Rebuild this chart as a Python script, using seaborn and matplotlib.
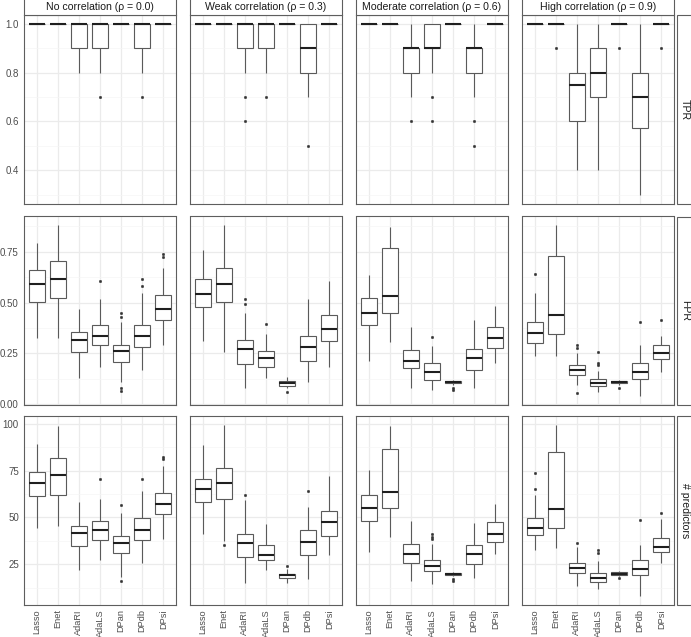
import numpy as np
import pandas as pd
import matplotlib
matplotlib.use('Agg')
import matplotlib.pyplot as plt
import seaborn as sns
from matplotlib.patches import Rectangle

methods = ['Lasso', 'Enet', 'AdaRI', 'AdaLS', 'DPan', 'DPdb', 'DPsi']
corr_labels = ['No correlation (ρ = 0.0)', 'Weak correlation (ρ = 0.3)',
               'Moderate correlation (ρ = 0.6)', 'High correlation (ρ = 0.9)']
metric_labels = ['TPR', 'FPR', '# predictors']

# box summaries, one tuple per method:
# (lower whisker, q1, median, q3, upper whisker, outliers)
ONE = (1.0, 1.0, 1.0, 1.0, 1.0, [])
tpr_none = [ONE, ONE, (0.8, 0.9, 1.0, 1.0, 1.0, []), (0.8, 0.9, 1.0, 1.0, 1.0, [0.7]),
            ONE, (0.8, 0.9, 1.0, 1.0, 1.0, [0.7]), ONE]
tpr_weak = [ONE, ONE, (0.8, 0.9, 1.0, 1.0, 1.0, [0.7, 0.6]), (0.8, 0.9, 1.0, 1.0, 1.0, [0.7]),
            ONE, (0.7, 0.8, 0.9, 1.0, 1.0, [0.5]), ONE]
tpr_mod = [ONE, ONE, (0.7, 0.8, 0.9, 0.9, 1.0, [0.6]), (0.8, 0.9, 0.9, 1.0, 1.0, [0.7, 0.6]),
           ONE, (0.7, 0.8, 0.9, 0.9, 1.0, [0.6, 0.5]), ONE]
tpr_high = [ONE, (1.0, 1.0, 1.0, 1.0, 1.0, [0.9]), (0.4, 0.6, 0.75, 0.8, 1.0, []),
            (0.4, 0.7, 0.8, 0.9, 1.0, []), (1.0, 1.0, 1.0, 1.0, 1.0, [0.9]),
            (0.3, 0.575, 0.7, 0.8, 1.0, []), (1.0, 1.0, 1.0, 1.0, 1.0, [0.9])]

fpr_none = [(0.326, 0.504, 0.593, 0.659, 0.796, []),
            (0.326, 0.524, 0.616, 0.705, 0.882, []),
            (0.127, 0.257, 0.316, 0.354, 0.471, []),
            (0.185, 0.292, 0.338, 0.389, 0.516, [0.607]),
            (0.107, 0.209, 0.26, 0.29, 0.404, [0.066, 0.081, 0.427, 0.45]),
            (0.17, 0.28, 0.338, 0.391, 0.549, [0.582, 0.615]),
            (0.292, 0.415, 0.471, 0.537, 0.672, [0.727, 0.737])]
fpr_weak = [(0.313, 0.48, 0.544, 0.616, 0.758, []),
            (0.259, 0.504, 0.593, 0.672, 0.882, []),
            (0.082, 0.198, 0.27, 0.315, 0.45, [0.494, 0.519]),
            (0.127, 0.181, 0.227, 0.26, 0.346, [0.394]),
            (0.08, 0.091, 0.102, 0.112, 0.132, [0.058]),
            (0.107, 0.213, 0.282, 0.335, 0.516, []),
            (0.181, 0.312, 0.371, 0.438, 0.607, [])]
fpr_mod = [(0.214, 0.391, 0.45, 0.524, 0.638, []),
           (0.305, 0.45, 0.534, 0.771, 0.874, []),
           (0.078, 0.18, 0.214, 0.268, 0.382, []),
           (0.068, 0.121, 0.157, 0.202, 0.285, [0.33]),
           (0.095, 0.103, 0.108, 0.113, 0.12, [0.07, 0.081]),
           (0.078, 0.167, 0.225, 0.272, 0.415, []),
           (0.202, 0.277, 0.326, 0.382, 0.483, [])]
fpr_high = [(0.239, 0.303, 0.349, 0.404, 0.549, [0.64]),
            (0.239, 0.346, 0.44, 0.73, 0.882, []),
            (0.093, 0.144, 0.169, 0.194, 0.25, [0.056, 0.275, 0.293]),
            (0.058, 0.089, 0.103, 0.123, 0.164, [0.194, 0.205, 0.258]),
            (0.095, 0.103, 0.109, 0.114, 0.12, [0.078]),
            (0.038, 0.123, 0.157, 0.202, 0.29, [0.404]),
            (0.16, 0.222, 0.25, 0.292, 0.335, [0.415])]

npred_none = [(44.4, 61.3, 68.5, 74.2, 89.3, []),
              (45.3, 62.0, 72.5, 81.5, 98.6, []),
              (21.8, 34.8, 41.4, 45.3, 58.2, []),
              (27.1, 38.0, 43.3, 47.9, 59.7, [70.3]),
              (18.0, 31.0, 36.4, 39.9, 52.4, [15.8, 56.5]),
              (25.4, 38.0, 43.3, 49.4, 64.1, [70.3]),
              (38.3, 51.8, 57.3, 63.0, 77.3, [81.0, 82.0])]
npred_weak = [(41.2, 58.2, 65.3, 70.3, 88.4, []),
              (37.5, 60.0, 68.5, 76.2, 99.5, [35.0]),
              (15.0, 28.9, 36.4, 41.3, 59.5, [62.1]),
              (21.8, 27.1, 30.0, 35.0, 46.5, []),
              (15.0, 17.7, 19.1, 19.9, 22.5, [24.1]),
              (17.2, 29.8, 36.7, 43.2, 55.5, [64.0]),
              (29.8, 40.3, 47.6, 53.4, 72.0, [])]
npred_mod = [(31.4, 47.9, 54.9, 62.0, 75.5, []),
             (39.4, 54.9, 63.6, 86.5, 98.9, []),
             (16.1, 25.9, 30.5, 35.6, 48.3, []),
             (14.4, 21.3, 24.1, 27.3, 35.6, [38.3, 39.7, 41.0]),
             (18.5, 19.1, 19.6, 20.1, 21.0, [16.1, 17.0]),
             (17.4, 25.0, 30.5, 35.1, 47.0, []),
             (30.7, 37.1, 41.0, 47.5, 57.3, [])]
npred_high = [(32.6, 40.4, 44.5, 49.7, 62.1, [65.0, 73.7]),
              (33.7, 44.4, 54.7, 84.7, 99.5, []),
              (13.5, 20.2, 23.2, 25.9, 34.0, [36.5]),
              (11.7, 15.6, 17.4, 20.2, 26.5, [31.2, 32.6]),
              (18.5, 19.5, 20.0, 20.6, 21.2, [17.4]),
              (8.1, 19.1, 22.3, 27.3, 35.1, [48.4]),
              (25.5, 31.5, 34.4, 39.2, 49.2, [52.4])]

panels = [[tpr_none, tpr_weak, tpr_mod, tpr_high],
          [fpr_none, fpr_weak, fpr_mod, fpr_high],
          [npred_none, npred_weak, npred_mod, npred_high]]

y_limits = [(0.265, 1.035), (-0.004, 0.924), (3.5, 104.1)]
y_major = [[0.4, 0.6, 0.8, 1.0], [0.0, 0.25, 0.5, 0.75], [25, 50, 75, 100]]
y_major_lbl = [['0.4', '0.6', '0.8', '1.0'], ['0.00', '0.25', '0.50', '0.75'],
               ['25', '50', '75', '100']]
y_minor = [[0.3, 0.5, 0.7, 0.9], [0.125, 0.375, 0.625, 0.875], [12.5, 37.5, 62.5, 87.5]]


def expand(box):
    # small sample whose quartiles / whiskers / outliers equal the read summary
    lo, q1, med, q3, hi, out = box
    low = sorted([lo] + [v for v in out if v < q1])
    high = sorted([hi] + [v for v in out if v > q3])
    m = max(len(low), len(high))
    low = low + [q1] * (m - len(low))
    high = [q3] * (m - len(high)) + high
    return low + [q1] * m + [med] * m + [q3] + high


rows = []
for r, metric in enumerate(metric_labels):
    for c, corr in enumerate(corr_labels):
        for meth, box in zip(methods, panels[r][c]):
            for v in expand(box):
                rows.append((metric, corr, meth, v))
df = pd.DataFrame(rows, columns=['metric', 'corr', 'method', 'value'])

sns.set_theme(style='white')
plt.rcParams['font.family'] = ['Liberation Sans', 'DejaVu Sans']

W, H = 691, 637
fig = plt.figure(figsize=(W / 100, H / 100), dpi=100)
col_left = [24, 190, 356, 522]
row_top = [15, 216.5, 416]
pw, ph = 152, 188.5
border = '#5e5e5e'


def rect(x, y, w, h):
    return [x / W, 1 - (y + h) / H, w / W, h / H]


for r, metric in enumerate(metric_labels):
    for c, corr in enumerate(corr_labels):
        ax = fig.add_axes(rect(col_left[c], row_top[r], pw, ph))
        sub = df[(df['metric'] == metric) & (df['corr'] == corr)]
        sns.boxplot(data=sub, x='method', y='value', order=methods, ax=ax,
                    color='white', linecolor='#5a5a5a', linewidth=0.8, width=0.75,
                    whis=1.5, showcaps=False, fliersize=1.8,
                    flierprops=dict(marker='o', markerfacecolor='#333333',
                                    markeredgecolor='#333333', markeredgewidth=0.3),
                    medianprops=dict(color='#1f1f1f', linewidth=1.5))
        ax.set_xlim(-0.6, 6.6)
        ax.set_ylim(*y_limits[r])
        ax.set_yticks(y_major[r])
        ax.set_yticks(y_minor[r], minor=True)
        ax.set_xticks(range(len(methods)))
        ax.set_facecolor('white')
        ax.set_axisbelow(True)
        ax.grid(True, which='major', color='#ebebeb', linewidth=0.9)
        ax.grid(True, which='minor', axis='y', color='#f5f5f5', linewidth=0.5)
        ax.set_xlabel('')
        ax.set_ylabel('')
        for sp in ax.spines.values():
            sp.set_visible(True)
            sp.set_color(border)
            sp.set_linewidth(0.8)
        ax.tick_params(which='minor', length=0)
        ax.tick_params(which='major', direction='out', length=2.5, width=0.6,
                       color='#333333', labelcolor='#4d4d4d', labelsize=7, pad=1.2)
        if c == 0:
            ax.set_yticklabels(y_major_lbl[r])
        else:
            ax.tick_params(axis='y', length=0, labelleft=False)
        if r == 2:
            ax.set_xticklabels(methods, rotation=90, va='top', ha='center', fontsize=6.6)
            ax.tick_params(axis='x', pad=1.0)
        else:
            ax.tick_params(axis='x', length=0, labelbottom=False)

# column strips on top
for c, corr in enumerate(corr_labels):
    x0, y0, w, h = rect(col_left[c], -3, pw, 18)
    fig.add_artist(Rectangle((x0, y0), w, h, transform=fig.transFigure,
                             facecolor='white', edgecolor=border, linewidth=0.8))
    fig.text(x0 + w / 2, 1 - 7.5 / H, corr, ha='center', va='center',
             fontsize=7.6, color='#1a1a1a')

# row strips on the right
for r, metric in enumerate(metric_labels):
    x0, y0, w, h = rect(677, row_top[r], 20, ph)
    fig.add_artist(Rectangle((x0, y0), w, h, transform=fig.transFigure,
                             facecolor='white', edgecolor=border, linewidth=0.8))
    fig.text(685 / W, y0 + h / 2, metric, ha='center', va='center', rotation=-90,
             fontsize=7.6, color='#1a1a1a')

fig.savefig('out.png', dpi=100)
